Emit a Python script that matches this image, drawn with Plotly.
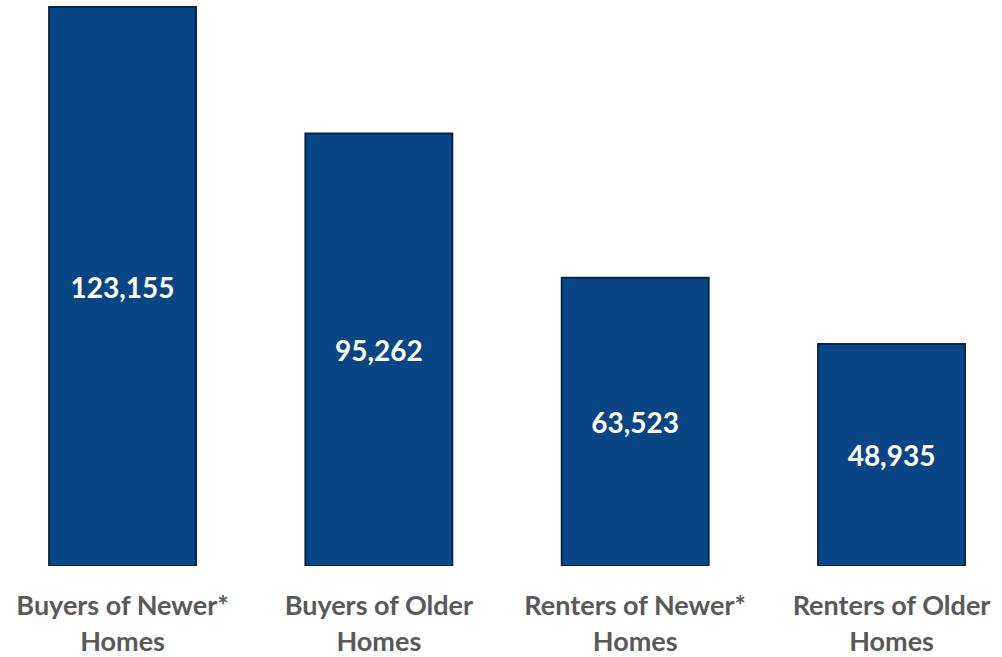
import plotly.graph_objects as go

categories = ["Buyers of Newer*<br>Homes", "Buyers of Older<br>Homes",
              "Renters of Newer*<br>Homes", "Renters of Older<br>Homes"]
values = [123155, 95262, 63523, 48935]
value_labels = ["123,155", "95,262", "63,523", "48,935"]

x = list(range(len(categories)))

fig = go.Figure()
fig.add_trace(go.Bar(
    x=x, y=values, width=0.573,
    marker=dict(color="#0a4585", line=dict(color="#02264f", width=2)),
    text=value_labels, textposition="inside", insidetextanchor="middle",
    textfont=dict(family="Lato", size=28, color="white", weight="bold"),
    textangle=0, hoverinfo="skip",
))

fig.update_layout(
    width=1002, height=657,
    margin=dict(l=0, r=0, t=0, b=91),
    paper_bgcolor="white", plot_bgcolor="white",
    showlegend=False,
    uniformtext=dict(minsize=10, mode="show"),
)
fig.update_xaxes(range=[-0.478, 3.431], tickmode="array", tickvals=x, ticktext=categories,
                 showgrid=False, zeroline=False, showline=False,
                 ticks="outside", ticklen=16, tickcolor="rgba(0,0,0,0)",
                 tickfont=dict(family="Lato", size=27, color="#595959", weight="bold"))
fig.update_yaxes(range=[0, 124700], visible=False)

fig.write_html("out.html")
